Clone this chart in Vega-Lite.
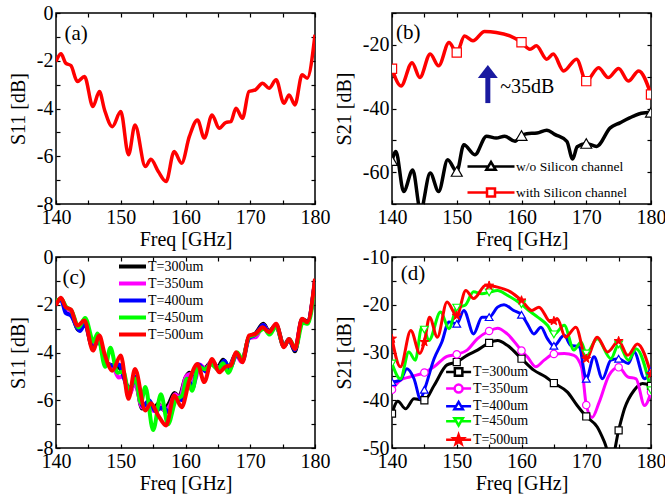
{
  "$schema": "https://vega.github.io/schema/vega-lite/v6.json",
  "padding": {"left": 7, "top": 2, "right": 0, "bottom": 0},
  "background": "white",
  "config": {
    "font": "Liberation Serif",
    "view": {"stroke": "black", "strokeWidth": 1.5},
    "axis": {"domain": false, "grid": false, "tickColor": "black", "tickSize": -4, "tickWidth": 1.2,
      "labelFont": "Liberation Serif", "labelFontSize": 20, "labelColor": "black", "labelFlush": false, "labelOverlap": false, "labelPadding": 7,
      "titleFont": "Liberation Serif", "titleFontSize": 20, "titleFontWeight": "normal", "titleColor": "black", "titlePadding": 2},
    "axisY": {"titlePadding": 8},
    "legend": {"labelFont": "Liberation Serif", "labelColor": "black", "padding": 0, "offset": 0, "rowPadding": 0, "labelOffset": 0}
  },
  "resolve": {"scale": {"color": "independent", "shape": "independent"}, "legend": {"color": "independent", "shape": "independent"}},
  "datasets": {
    "a": [
      {"f":140,"v":-2.03},{"f":140.77,"v":-1.71},{"f":141.5,"v":-2.1},{"f":142.3,"v":-2.2},{"f":143.3,"v":-2.87},{"f":144.4,"v":-2.66},{"f":145.7,"v":-3.92},{"f":146.7,"v":-3.29},{"f":147.5,"v":-4.06},{"f":148.7,"v":-4.76},{"f":150.0,"v":-4.13},{"f":151.2,"v":-5.94},{"f":152.2,"v":-4.69},{"f":153.8,"v":-6.43},{"f":154.65,"v":-6.13},{"f":155.8,"v":-6.64},{"f":157.0,"v":-7.06},{"f":158.25,"v":-5.8},{"f":159.4,"v":-6.29},{"f":160.6,"v":-5.17},{"f":161.85,"v":-4.48},{"f":162.9,"v":-5.24},{"f":164.1,"v":-4.27},{"f":165.2,"v":-4.83},{"f":166.2,"v":-4.59},{"f":167.0,"v":-4.55},{"f":167.8,"v":-3.99},{"f":168.8,"v":-4.41},{"f":169.8,"v":-3.29},{"f":170.8,"v":-3.22},{"f":171.9,"v":-2.94},{"f":172.9,"v":-3.15},{"f":174.0,"v":-2.8},{"f":175.2,"v":-3.78},{"f":176.0,"v":-3.43},{"f":176.9,"v":-3.85},{"f":178.0,"v":-2.59},{"f":178.8,"v":-2.73},{"f":180,"v":-0.91}
    ],
    "b": [
      {"s":"w/o Silicon channel","f":140,"v":-56.4,"m":1},{"s":"w/o Silicon channel","f":140.6,"v":-53.5},{"s":"w/o Silicon channel","f":141.8,"v":-66.1},{"s":"w/o Silicon channel","f":143.2,"v":-59.3},{"s":"w/o Silicon channel","f":144.4,"v":-72},{"s":"w/o Silicon channel","f":145.9,"v":-60.3},{"s":"w/o Silicon channel","f":147.2,"v":-66.1},{"s":"w/o Silicon channel","f":148.6,"v":-56.1},{"s":"w/o Silicon channel","f":150,"v":-59.8,"m":1},{"s":"w/o Silicon channel","f":151.1,"v":-51.4},{"s":"w/o Silicon channel","f":152.8,"v":-54.5},{"s":"w/o Silicon channel","f":154.6,"v":-48.7},{"s":"w/o Silicon channel","f":156.1,"v":-49.3},{"s":"w/o Silicon channel","f":157.4,"v":-48.7},{"s":"w/o Silicon channel","f":159.0,"v":-50.3},{"s":"w/o Silicon channel","f":160,"v":-48.5,"m":1},{"s":"w/o Silicon channel","f":160.8,"v":-47.9},{"s":"w/o Silicon channel","f":162.4,"v":-47.7},{"s":"w/o Silicon channel","f":163.9,"v":-46.8},{"s":"w/o Silicon channel","f":165.2,"v":-48.2},{"s":"w/o Silicon channel","f":167.0,"v":-50.3},{"s":"w/o Silicon channel","f":167.9,"v":-55.9},{"s":"w/o Silicon channel","f":168.6,"v":-52.0},{"s":"w/o Silicon channel","f":170,"v":-51.0,"m":1},{"s":"w/o Silicon channel","f":171.6,"v":-51.9},{"s":"w/o Silicon channel","f":173.7,"v":-46.1},{"s":"w/o Silicon channel","f":175.2,"v":-44.5},{"s":"w/o Silicon channel","f":177.3,"v":-42.4},{"s":"w/o Silicon channel","f":178.5,"v":-41.5},{"s":"w/o Silicon channel","f":180,"v":-41.2,"m":1},
      {"s":"with Silicon channel","f":140,"v":-27.5,"m":1},{"s":"with Silicon channel","f":141.4,"v":-32.9},{"s":"with Silicon channel","f":143.1,"v":-25.6},{"s":"with Silicon channel","f":144.3,"v":-30.3},{"s":"with Silicon channel","f":145.9,"v":-22.9},{"s":"with Silicon channel","f":147.2,"v":-26.6},{"s":"with Silicon channel","f":148.8,"v":-19.3},{"s":"with Silicon channel","f":150,"v":-22.4,"m":1},{"s":"with Silicon channel","f":151.2,"v":-17.2},{"s":"with Silicon channel","f":152.5,"v":-18.7},{"s":"with Silicon channel","f":154.3,"v":-15.8},{"s":"with Silicon channel","f":156.1,"v":-16.1},{"s":"with Silicon channel","f":158.2,"v":-17.2},{"s":"with Silicon channel","f":160,"v":-19.2,"m":1},{"s":"with Silicon channel","f":161.3,"v":-21.4},{"s":"with Silicon channel","f":162.3,"v":-20.3},{"s":"with Silicon channel","f":163.9,"v":-24.5},{"s":"with Silicon channel","f":164.9,"v":-22.9},{"s":"with Silicon channel","f":166.5,"v":-28.2},{"s":"with Silicon channel","f":168.5,"v":-24.5},{"s":"with Silicon channel","f":170,"v":-31.4,"m":1},{"s":"with Silicon channel","f":171.9,"v":-27.2},{"s":"with Silicon channel","f":173.4,"v":-30.3},{"s":"with Silicon channel","f":175.0,"v":-27.4},{"s":"with Silicon channel","f":176.5,"v":-31.4},{"s":"with Silicon channel","f":178.1,"v":-28.2},{"s":"with Silicon channel","f":180,"v":-35.6,"m":1}
    ],
    "c": [
      {"s":"T=300um","f":140,"v":-1.95},{"s":"T=300um","f":140.8,"v":-1.75},{"s":"T=300um","f":141.5,"v":-2.2},{"s":"T=300um","f":142.3,"v":-2.35},{"s":"T=300um","f":143.5,"v":-3.05},{"s":"T=300um","f":144.4,"v":-2.75},{"s":"T=300um","f":145.6,"v":-3.75},{"s":"T=300um","f":146.5,"v":-3.45},{"s":"T=300um","f":147.7,"v":-4.4},{"s":"T=300um","f":148.8,"v":-4.55},{"s":"T=300um","f":149.6,"v":-4.6},{"s":"T=300um","f":150.4,"v":-4.9},{"s":"T=300um","f":151.3,"v":-5.75},{"s":"T=300um","f":152.2,"v":-5.2},{"s":"T=300um","f":153.3,"v":-6.35},{"s":"T=300um","f":154.2,"v":-6.15},{"s":"T=300um","f":155.0,"v":-6.4},{"s":"T=300um","f":155.8,"v":-6.15},{"s":"T=300um","f":156.6,"v":-6.4},{"s":"T=300um","f":157.4,"v":-6.15},{"s":"T=300um","f":158.3,"v":-5.7},{"s":"T=300um","f":159.0,"v":-5.85},{"s":"T=300um","f":160.0,"v":-5.05},{"s":"T=300um","f":160.6,"v":-4.85},{"s":"T=300um","f":161.3,"v":-5.1},{"s":"T=300um","f":162.1,"v":-4.55},{"s":"T=300um","f":163.0,"v":-4.65},{"s":"T=300um","f":164.0,"v":-4.4},{"s":"T=300um","f":165.0,"v":-4.6},{"s":"T=300um","f":165.8,"v":-4.3},{"s":"T=300um","f":166.7,"v":-4.6},{"s":"T=300um","f":167.8,"v":-4.05},{"s":"T=300um","f":168.7,"v":-4.35},{"s":"T=300um","f":169.8,"v":-3.35},{"s":"T=300um","f":170.8,"v":-3.2},{"s":"T=300um","f":172.0,"v":-2.8},{"s":"T=300um","f":172.9,"v":-3.1},{"s":"T=300um","f":174.0,"v":-2.85},{"s":"T=300um","f":175.2,"v":-3.7},{"s":"T=300um","f":176.0,"v":-3.45},{"s":"T=300um","f":176.9,"v":-3.95},{"s":"T=300um","f":178.0,"v":-2.6},{"s":"T=300um","f":178.8,"v":-2.7},{"s":"T=300um","f":180,"v":-1.0},
      {"s":"T=350um","f":140,"v":-1.9},{"s":"T=350um","f":140.8,"v":-1.75},{"s":"T=350um","f":141.5,"v":-2.15},{"s":"T=350um","f":142.3,"v":-2.3},{"s":"T=350um","f":143.5,"v":-3.0},{"s":"T=350um","f":144.4,"v":-2.7},{"s":"T=350um","f":145.6,"v":-3.7},{"s":"T=350um","f":146.5,"v":-3.4},{"s":"T=350um","f":147.7,"v":-4.45},{"s":"T=350um","f":148.8,"v":-4.6},{"s":"T=350um","f":149.7,"v":-5.05},{"s":"T=350um","f":150.5,"v":-5.0},{"s":"T=350um","f":151.3,"v":-5.8},{"s":"T=350um","f":152.2,"v":-5.25},{"s":"T=350um","f":153.3,"v":-6.3},{"s":"T=350um","f":154.2,"v":-6.2},{"s":"T=350um","f":155.1,"v":-6.45},{"s":"T=350um","f":156.0,"v":-6.2},{"s":"T=350um","f":156.8,"v":-6.45},{"s":"T=350um","f":157.6,"v":-6.2},{"s":"T=350um","f":158.4,"v":-5.75},{"s":"T=350um","f":159.1,"v":-5.9},{"s":"T=350um","f":160.1,"v":-5.0},{"s":"T=350um","f":160.7,"v":-4.9},{"s":"T=350um","f":161.4,"v":-5.2},{"s":"T=350um","f":162.2,"v":-4.5},{"s":"T=350um","f":163.1,"v":-4.7},{"s":"T=350um","f":164.1,"v":-4.35},{"s":"T=350um","f":165.1,"v":-4.65},{"s":"T=350um","f":165.9,"v":-4.4},{"s":"T=350um","f":166.7,"v":-4.65},{"s":"T=350um","f":167.8,"v":-4.1},{"s":"T=350um","f":168.7,"v":-4.4},{"s":"T=350um","f":169.8,"v":-3.4},{"s":"T=350um","f":170.9,"v":-3.35},{"s":"T=350um","f":172.0,"v":-2.85},{"s":"T=350um","f":172.9,"v":-3.15},{"s":"T=350um","f":174.0,"v":-2.9},{"s":"T=350um","f":175.2,"v":-3.75},{"s":"T=350um","f":176.0,"v":-3.45},{"s":"T=350um","f":176.9,"v":-3.85},{"s":"T=350um","f":178.0,"v":-2.65},{"s":"T=350um","f":178.8,"v":-2.75},{"s":"T=350um","f":180,"v":-1.0},
      {"s":"T=400um","f":140,"v":-1.9},{"s":"T=400um","f":140.8,"v":-1.8},{"s":"T=400um","f":141.5,"v":-2.35},{"s":"T=400um","f":142.3,"v":-2.45},{"s":"T=400um","f":143.7,"v":-3.1},{"s":"T=400um","f":144.5,"v":-2.8},{"s":"T=400um","f":145.7,"v":-3.8},{"s":"T=400um","f":146.6,"v":-3.5},{"s":"T=400um","f":147.7,"v":-4.5},{"s":"T=400um","f":148.8,"v":-4.55},{"s":"T=400um","f":149.7,"v":-4.5},{"s":"T=400um","f":150.8,"v":-5.3},{"s":"T=400um","f":151.5,"v":-5.5},{"s":"T=400um","f":152.3,"v":-5.0},{"s":"T=400um","f":153.4,"v":-6.25},{"s":"T=400um","f":154.4,"v":-6.0},{"s":"T=400um","f":155.3,"v":-6.45},{"s":"T=400um","f":156.5,"v":-6.3},{"s":"T=400um","f":157.5,"v":-6.5},{"s":"T=400um","f":158.5,"v":-5.9},{"s":"T=400um","f":159.5,"v":-6.0},{"s":"T=400um","f":160.4,"v":-5.1},{"s":"T=400um","f":161.1,"v":-5.5},{"s":"T=400um","f":162.0,"v":-4.5},{"s":"T=400um","f":163.2,"v":-4.8},{"s":"T=400um","f":164.0,"v":-4.4},{"s":"T=400um","f":165.0,"v":-4.7},{"s":"T=400um","f":166.0,"v":-4.35},{"s":"T=400um","f":166.8,"v":-4.7},{"s":"T=400um","f":167.9,"v":-4.1},{"s":"T=400um","f":168.8,"v":-4.35},{"s":"T=400um","f":169.8,"v":-3.4},{"s":"T=400um","f":170.8,"v":-3.25},{"s":"T=400um","f":172.0,"v":-2.85},{"s":"T=400um","f":172.9,"v":-3.2},{"s":"T=400um","f":174.0,"v":-2.9},{"s":"T=400um","f":175.2,"v":-3.75},{"s":"T=400um","f":176.0,"v":-3.45},{"s":"T=400um","f":176.9,"v":-3.9},{"s":"T=400um","f":178.0,"v":-2.65},{"s":"T=400um","f":178.8,"v":-2.75},{"s":"T=400um","f":180,"v":-1.0},
      {"s":"T=450um","f":140,"v":-1.85},{"s":"T=450um","f":140.8,"v":-1.75},{"s":"T=450um","f":141.6,"v":-2.1},{"s":"T=450um","f":142.4,"v":-2.25},{"s":"T=450um","f":143.5,"v":-2.95},{"s":"T=450um","f":144.5,"v":-2.55},{"s":"T=450um","f":145.8,"v":-3.55},{"s":"T=450um","f":146.4,"v":-3.2},{"s":"T=450um","f":147.6,"v":-4.6},{"s":"T=450um","f":148.4,"v":-3.8},{"s":"T=450um","f":149.5,"v":-4.85},{"s":"T=450um","f":150.4,"v":-4.8},{"s":"T=450um","f":151.2,"v":-5.6},{"s":"T=450um","f":152.3,"v":-5.1},{"s":"T=450um","f":153.1,"v":-6.1},{"s":"T=450um","f":153.8,"v":-5.45},{"s":"T=450um","f":155.0,"v":-7.25},{"s":"T=450um","f":156.2,"v":-5.75},{"s":"T=450um","f":157.3,"v":-7.0},{"s":"T=450um","f":158.5,"v":-6.0},{"s":"T=450um","f":159.5,"v":-5.8},{"s":"T=450um","f":160.2,"v":-5.1},{"s":"T=450um","f":161.0,"v":-5.6},{"s":"T=450um","f":162.0,"v":-4.6},{"s":"T=450um","f":163.0,"v":-4.7},{"s":"T=450um","f":164.0,"v":-4.5},{"s":"T=450um","f":165.0,"v":-4.7},{"s":"T=450um","f":165.8,"v":-4.45},{"s":"T=450um","f":166.6,"v":-4.85},{"s":"T=450um","f":168.0,"v":-4.0},{"s":"T=450um","f":168.8,"v":-4.3},{"s":"T=450um","f":169.8,"v":-3.35},{"s":"T=450um","f":170.8,"v":-3.25},{"s":"T=450um","f":172.1,"v":-3.0},{"s":"T=450um","f":173.0,"v":-3.25},{"s":"T=450um","f":174.0,"v":-2.9},{"s":"T=450um","f":175.2,"v":-3.75},{"s":"T=450um","f":176.0,"v":-3.45},{"s":"T=450um","f":177.0,"v":-3.8},{"s":"T=450um","f":178.1,"v":-2.75},{"s":"T=450um","f":178.9,"v":-2.8},{"s":"T=450um","f":180,"v":-1.05},
      {"s":"T=500um","f":140,"v":-2.03},{"s":"T=500um","f":140.77,"v":-1.71},{"s":"T=500um","f":141.5,"v":-2.1},{"s":"T=500um","f":142.3,"v":-2.2},{"s":"T=500um","f":143.3,"v":-2.87},{"s":"T=500um","f":144.4,"v":-2.66},{"s":"T=500um","f":145.7,"v":-3.92},{"s":"T=500um","f":146.7,"v":-3.29},{"s":"T=500um","f":147.5,"v":-4.06},{"s":"T=500um","f":148.7,"v":-4.76},{"s":"T=500um","f":150.0,"v":-4.13},{"s":"T=500um","f":151.2,"v":-5.94},{"s":"T=500um","f":152.2,"v":-4.69},{"s":"T=500um","f":153.8,"v":-6.43},{"s":"T=500um","f":154.65,"v":-6.13},{"s":"T=500um","f":155.8,"v":-6.64},{"s":"T=500um","f":157.0,"v":-7.06},{"s":"T=500um","f":158.25,"v":-5.8},{"s":"T=500um","f":159.4,"v":-6.29},{"s":"T=500um","f":160.6,"v":-5.17},{"s":"T=500um","f":161.85,"v":-4.48},{"s":"T=500um","f":162.9,"v":-5.24},{"s":"T=500um","f":164.1,"v":-4.27},{"s":"T=500um","f":165.2,"v":-4.83},{"s":"T=500um","f":166.2,"v":-4.59},{"s":"T=500um","f":167.0,"v":-4.55},{"s":"T=500um","f":167.8,"v":-3.99},{"s":"T=500um","f":168.8,"v":-4.41},{"s":"T=500um","f":169.8,"v":-3.29},{"s":"T=500um","f":170.8,"v":-3.22},{"s":"T=500um","f":171.9,"v":-2.94},{"s":"T=500um","f":172.9,"v":-3.15},{"s":"T=500um","f":174.0,"v":-2.8},{"s":"T=500um","f":175.2,"v":-3.78},{"s":"T=500um","f":176.0,"v":-3.43},{"s":"T=500um","f":176.9,"v":-3.85},{"s":"T=500um","f":178.0,"v":-2.59},{"s":"T=500um","f":178.8,"v":-2.73},{"s":"T=500um","f":180,"v":-0.91}
    ],
    "d": [
      {"s":"T=300um","f":140,"v":-42.8,"m":1},{"s":"T=300um","f":140.9,"v":-40.2},{"s":"T=300um","f":142.1,"v":-41.8},{"s":"T=300um","f":143.4,"v":-39.7},{"s":"T=300um","f":145,"v":-40.0,"m":1},{"s":"T=300um","f":146.5,"v":-36.9},{"s":"T=300um","f":148.5,"v":-32.6},{"s":"T=300um","f":150,"v":-32.0,"m":1},{"s":"T=300um","f":151.6,"v":-30.6},{"s":"T=300um","f":153.2,"v":-29.5},{"s":"T=300um","f":155,"v":-28.0,"m":1},{"s":"T=300um","f":156.3,"v":-27.5},{"s":"T=300um","f":157.8,"v":-28.5},{"s":"T=300um","f":160,"v":-31.3,"m":1},{"s":"T=300um","f":161.9,"v":-33.7},{"s":"T=300um","f":163.7,"v":-35.1},{"s":"T=300um","f":165,"v":-36.4,"m":1},{"s":"T=300um","f":167.1,"v":-38.3},{"s":"T=300um","f":168.6,"v":-41.1},{"s":"T=300um","f":170,"v":-43.4,"m":1},{"s":"T=300um","f":171.7,"v":-45.6},{"s":"T=300um","f":172.8,"v":-48.7},{"s":"T=300um","f":173.9,"v":-52.5},{"s":"T=300um","f":175,"v":-46.3,"m":1},{"s":"T=300um","f":175.9,"v":-41.8},{"s":"T=300um","f":177.4,"v":-37.9},{"s":"T=300um","f":178.7,"v":-36.5},{"s":"T=300um","f":180,"v":-37.0,"m":1},
      {"s":"T=350um","f":140,"v":-37.8,"m":1},{"s":"T=350um","f":141.3,"v":-35.8},{"s":"T=350um","f":142.8,"v":-35.1},{"s":"T=350um","f":145,"v":-34.2,"m":1},{"s":"T=350um","f":146.5,"v":-33.0},{"s":"T=350um","f":148.5,"v":-30.8},{"s":"T=350um","f":150,"v":-30.4,"m":1},{"s":"T=350um","f":151.6,"v":-29.5},{"s":"T=350um","f":153.2,"v":-27.1},{"s":"T=350um","f":155,"v":-25.5,"m":1},{"s":"T=350um","f":156.3,"v":-24.9},{"s":"T=350um","f":157.8,"v":-26.1},{"s":"T=350um","f":160,"v":-29.6,"m":1},{"s":"T=350um","f":160.9,"v":-30.9},{"s":"T=350um","f":162.2,"v":-33.0},{"s":"T=350um","f":163.5,"v":-31.6},{"s":"T=350um","f":165,"v":-30.3,"m":1},{"s":"T=350um","f":166.6,"v":-30.2},{"s":"T=350um","f":168.1,"v":-30.6},{"s":"T=350um","f":169.3,"v":-33.2},{"s":"T=350um","f":170,"v":-41.0,"m":1},{"s":"T=350um","f":170.9,"v":-43.6},{"s":"T=350um","f":172,"v":-40.4},{"s":"T=350um","f":173.5,"v":-34.8},{"s":"T=350um","f":175,"v":-33.1,"m":1},{"s":"T=350um","f":176.4,"v":-35.1},{"s":"T=350um","f":177.7,"v":-35.5},{"s":"T=350um","f":179,"v":-41.1},{"s":"T=350um","f":180,"v":-38.3,"m":1},
      {"s":"T=400um","f":140,"v":-36.2,"m":1},{"s":"T=400um","f":141.3,"v":-35.8},{"s":"T=400um","f":142.3,"v":-33.4},{"s":"T=400um","f":143.4,"v":-35.5},{"s":"T=400um","f":144.4,"v":-39.7},{"s":"T=400um","f":145,"v":-37.8,"m":1},{"s":"T=400um","f":146.5,"v":-31.3},{"s":"T=400um","f":147.7,"v":-27.8},{"s":"T=400um","f":148.8,"v":-23.6},{"s":"T=400um","f":150,"v":-24.0,"m":1},{"s":"T=400um","f":151.1,"v":-21.2},{"s":"T=400um","f":152.6,"v":-26.1},{"s":"T=400um","f":153.9,"v":-22.6},{"s":"T=400um","f":155,"v":-22.6,"m":1},{"s":"T=400um","f":156.3,"v":-20.5},{"s":"T=400um","f":157.3,"v":-20.0},{"s":"T=400um","f":158.8,"v":-21.2},{"s":"T=400um","f":160,"v":-22.1,"m":1},{"s":"T=400um","f":160.9,"v":-24.0},{"s":"T=400um","f":161.9,"v":-26.1},{"s":"T=400um","f":163,"v":-24.7},{"s":"T=400um","f":164,"v":-27.1},{"s":"T=400um","f":165,"v":-28.6,"m":1},{"s":"T=400um","f":166.6,"v":-26.4},{"s":"T=400um","f":167.6,"v":-28.5},{"s":"T=400um","f":168.9,"v":-28.8},{"s":"T=400um","f":170,"v":-35.5,"m":1},{"s":"T=400um","f":171.2,"v":-30.9},{"s":"T=400um","f":172.5,"v":-35.5},{"s":"T=400um","f":173.8,"v":-31.6},{"s":"T=400um","f":175,"v":-31.3,"m":1},{"s":"T=400um","f":176.5,"v":-32.3},{"s":"T=400um","f":177.4,"v":-29.9},{"s":"T=400um","f":179,"v":-35.5},{"s":"T=400um","f":180,"v":-33.8,"m":1},
      {"s":"T=450um","f":140,"v":-32.3,"m":1},{"s":"T=450um","f":141.3,"v":-35.5},{"s":"T=450um","f":142.6,"v":-29.9},{"s":"T=450um","f":143.6,"v":-31.6},{"s":"T=450um","f":144.6,"v":-24.7},{"s":"T=450um","f":145,"v":-25.2,"m":1},{"s":"T=450um","f":145.7,"v":-27.5},{"s":"T=450um","f":147.5,"v":-21.5},{"s":"T=450um","f":148.8,"v":-25.0},{"s":"T=450um","f":150,"v":-20.6,"m":1},{"s":"T=450um","f":151.3,"v":-20.1},{"s":"T=450um","f":152.6,"v":-17.3},{"s":"T=450um","f":153.9,"v":-17.7},{"s":"T=450um","f":155,"v":-17.4,"m":1},{"s":"T=450um","f":156.3,"v":-17.0},{"s":"T=450um","f":157.8,"v":-18.0},{"s":"T=450um","f":160,"v":-19.9,"m":1},{"s":"T=450um","f":161.4,"v":-21.5},{"s":"T=450um","f":162.5,"v":-22.6},{"s":"T=450um","f":164,"v":-24.3},{"s":"T=450um","f":165,"v":-26.2,"m":1},{"s":"T=450um","f":166.6,"v":-24.3},{"s":"T=450um","f":168.1,"v":-29.5},{"s":"T=450um","f":169.2,"v":-27.8},{"s":"T=450um","f":170,"v":-30.2,"m":1},{"s":"T=450um","f":171.7,"v":-27.1},{"s":"T=450um","f":173.8,"v":-31.3},{"s":"T=450um","f":175,"v":-28.3,"m":1},{"s":"T=450um","f":176.5,"v":-31.6},{"s":"T=450um","f":177.7,"v":-29.2},{"s":"T=450um","f":180,"v":-37.9,"m":1},
      {"s":"T=500um","f":140,"v":-27.1,"m":1},{"s":"T=500um","f":141.3,"v":-33.0},{"s":"T=500um","f":142.9,"v":-25.4},{"s":"T=500um","f":144.3,"v":-30.2},{"s":"T=500um","f":145,"v":-27.8,"m":1},{"s":"T=500um","f":145.8,"v":-22.6},{"s":"T=500um","f":147.0,"v":-26.8},{"s":"T=500um","f":148.5,"v":-19.4},{"s":"T=500um","f":150,"v":-22.3,"m":1},{"s":"T=500um","f":151.4,"v":-17.0},{"s":"T=500um","f":152.6,"v":-18.7},{"s":"T=500um","f":154.5,"v":-15.9},{"s":"T=500um","f":155,"v":-16.0,"m":1},{"s":"T=500um","f":156.3,"v":-16.3},{"s":"T=500um","f":158.3,"v":-17.3},{"s":"T=500um","f":160,"v":-19.1,"m":1},{"s":"T=500um","f":161.6,"v":-21.2},{"s":"T=500um","f":162.7,"v":-20.5},{"s":"T=500um","f":164.5,"v":-23.6},{"s":"T=500um","f":165,"v":-23.4,"m":1},{"s":"T=500um","f":165.5,"v":-22.9},{"s":"T=500um","f":166.8,"v":-26.8},{"s":"T=500um","f":168.4,"v":-24.7},{"s":"T=500um","f":170,"v":-31.3,"m":1},{"s":"T=500um","f":171.7,"v":-26.8},{"s":"T=500um","f":173.3,"v":-29.9},{"s":"T=500um","f":175,"v":-27.6,"m":1},{"s":"T=500um","f":176.4,"v":-30.6},{"s":"T=500um","f":177.9,"v":-28.2},{"s":"T=500um","f":180,"v":-34.5,"m":1}
    ]
  },
  "columns": 2,
  "bounds": "flush",
  "spacing": {"row": 53, "column": 77},
  "concat": [
    {
      "width": 259, "height": 191,
      "data": {"name": "a"},
      "layer": [
        {"mark": {"type": "line", "color": "#ff0000", "strokeWidth": 3.5, "interpolate": "monotone", "clip": true},
         "encoding": {
           "x": {"field": "f", "type": "quantitative", "scale": {"domain": [140, 180], "nice": false, "zero": false},
                 "axis": {"orient": "bottom", "title": "Freq [GHz]", "values": [140,145,150,155,160,165,170,175,180], "labelExpr": "datum.value % 10 === 0 ? '' + datum.value : ''"}},
           "y": {"field": "v", "type": "quantitative", "scale": {"domain": [-8, 0], "nice": false, "zero": false},
                 "axis": {"orient": "left", "title": "S11 [dB]", "values": [-8,-7,-6,-5,-4,-3,-2,-1,0], "labelExpr": "datum.value % 2 === 0 ? '' + datum.value : ''"}}
         }},
        {"mark": {"type": "point", "opacity": 0},
         "encoding": {
           "x": {"field": "f", "type": "quantitative", "axis": {"orient": "top", "labels": false, "title": null, "values": [140,145,150,155,160,165,170,175,180]}},
           "y": {"field": "v", "type": "quantitative", "axis": {"orient": "right", "labels": false, "title": null, "values": [-8,-7,-6,-5,-4,-3,-2,-1,0]}}
         }},
        {"data": {"values": [{}]},
         "mark": {"type": "text", "align": "left", "baseline": "alphabetic", "fontSize": 21, "font": "Liberation Serif", "fill": "black"},
         "encoding": {"x": {"datum": 141.3, "type": "quantitative", "axis": null}, "y": {"datum": -1.15, "type": "quantitative", "axis": null}, "text": {"value": "(a)"}}}
      ]
    },
    {
      "width": 259, "height": 191,
      "data": {"name": "b"},
      "layer": [
        {"mark": {"type": "line", "strokeWidth": 3.5, "interpolate": "monotone", "clip": true},
         "encoding": {
           "x": {"field": "f", "type": "quantitative", "scale": {"domain": [140, 180], "nice": false, "zero": false},
                 "axis": {"orient": "bottom", "title": "Freq [GHz]", "values": [140,145,150,155,160,165,170,175,180], "labelExpr": "datum.value % 10 === 0 ? '' + datum.value : ''"}},
           "y": {"field": "v", "type": "quantitative", "scale": {"domain": [-70, -10], "nice": false, "zero": false},
                 "axis": {"orient": "left", "title": "S21 [dB]", "values": [-70,-60,-50,-40,-30,-20,-10], "labelExpr": "datum.value % 20 === 0 ? '' + datum.value : ''"}},
           "color": {"field": "s", "type": "nominal", "scale": {"domain": ["w/o Silicon channel", "with Silicon channel"], "range": ["#000000", "#ff0000"]},
                     "legend": {"orient": "none", "legendX": 74, "legendY": 140.5, "title": null, "labelFontSize": 13.5, "symbolSize": 2209, "symbolStrokeWidth": 2.5, "symbolOpacity": 1, "clipHeight": 26}}
         }},
        {"transform": [{"filter": "datum.m === 1 && datum.s === 'w/o Silicon channel'"}],
         "mark": {"type": "point", "shape": "triangle-up", "filled": true, "fill": "white", "stroke": "black", "strokeWidth": 1.2, "size": 120, "opacity": 1, "clip": true},
         "encoding": {
           "x": {"field": "f", "type": "quantitative", "axis": {"orient": "top", "labels": false, "title": null, "values": [140,145,150,155,160,165,170,175,180]}},
           "y": {"field": "v", "type": "quantitative", "axis": {"orient": "right", "labels": false, "title": null, "values": [-70,-60,-50,-40,-30,-20,-10]}}
         }},
        {"transform": [{"filter": "datum.m === 1 && datum.s === 'with Silicon channel'"}],
         "mark": {"type": "point", "shape": "square", "filled": true, "fill": "white", "stroke": "#ff0000", "strokeWidth": 1.2, "size": 85, "opacity": 1, "clip": true},
         "encoding": {
           "x": {"field": "f", "type": "quantitative", "axis": null},
           "y": {"field": "v", "type": "quantitative", "axis": null}
         }},
        {"transform": [{"filter": "datum.m === 1"}],
         "mark": {"type": "point", "opacity": 0, "strokeWidth": 2.5},
         "encoding": {
           "x": {"field": "f", "type": "quantitative", "axis": null},
           "y": {"field": "v", "type": "quantitative", "axis": null},
           "color": {"field": "s", "type": "nominal", "legend": {"orient": "none", "legendX": 74, "legendY": 140.5, "title": null, "labelFontSize": 13.5, "symbolSize": 2209, "symbolStrokeWidth": 2.5, "symbolOpacity": 1, "clipHeight": 26}},
           "shape": {"field": "s", "type": "nominal", "scale": {"domain": ["w/o Silicon channel", "with Silicon channel"], "range": ["M-1,0H-0.12M0.12,0H1M-0.2,0.14L0.2,0.14L0,-0.19Z", "M-1,0H-0.17M0.17,0H1M-0.17,-0.17H0.17V0.17H-0.17Z"]},
                     "legend": {"orient": "none", "legendX": 74, "legendY": 140.5, "title": null, "labelFontSize": 13.5, "symbolSize": 2209, "symbolStrokeWidth": 2.5, "symbolOpacity": 1, "clipHeight": 26}}
         }},
        {"data": {"values": [{}]},
         "mark": {"type": "rule", "color": "#1a1aa0", "strokeWidth": 5},
         "encoding": {"x": {"datum": 154.8, "type": "quantitative", "axis": null}, "y": {"datum": -38.3, "type": "quantitative", "axis": null}, "y2": {"datum": -30.0}}},
        {"data": {"values": [{}]},
         "mark": {"type": "point", "shape": "M-1,0.65L1,0.65L0,-0.65Z", "filled": true, "color": "#1a1aa0", "size": 400, "opacity": 1},
         "encoding": {"x": {"datum": 154.8, "type": "quantitative", "axis": null}, "y": {"datum": -28.4, "type": "quantitative", "axis": null}}},
        {"data": {"values": [{}]},
         "mark": {"type": "text", "align": "left", "baseline": "middle", "fontSize": 20, "font": "Liberation Serif", "fill": "black"},
         "encoding": {"x": {"datum": 156.7, "type": "quantitative", "axis": null}, "y": {"datum": -33.2, "type": "quantitative", "axis": null}, "text": {"value": "~35dB"}}},
        {"data": {"values": [{}]},
         "mark": {"type": "text", "align": "left", "baseline": "alphabetic", "fontSize": 21, "font": "Liberation Serif", "fill": "black"},
         "encoding": {"x": {"datum": 140.6, "type": "quantitative", "axis": null}, "y": {"datum": -18.2, "type": "quantitative", "axis": null}, "text": {"value": "(b)"}}}
      ]
    },
    {
      "width": 259, "height": 191,
      "data": {"name": "c"},
      "layer": [
        {"mark": {"type": "line", "strokeWidth": 4, "interpolate": "monotone", "clip": true},
         "encoding": {
           "x": {"field": "f", "type": "quantitative", "scale": {"domain": [140, 180], "nice": false, "zero": false},
                 "axis": {"orient": "bottom", "title": "Freq [GHz]", "values": [140,145,150,155,160,165,170,175,180], "labelExpr": "datum.value % 10 === 0 ? '' + datum.value : ''"}},
           "y": {"field": "v", "type": "quantitative", "scale": {"domain": [-8, 0], "nice": false, "zero": false},
                 "axis": {"orient": "left", "title": "S11 [dB]", "values": [-8,-7,-6,-5,-4,-3,-2,-1,0], "labelExpr": "datum.value % 2 === 0 ? '' + datum.value : ''"}},
           "color": {"field": "s", "type": "nominal", "scale": {"domain": ["T=300um", "T=350um", "T=400um", "T=450um", "T=500um"], "range": ["#000000", "#ff00ff", "#0000ff", "#00ff00", "#ff0000"]},
                     "legend": {"orient": "none", "legendX": 61, "legendY": 1, "title": null, "labelFontSize": 14, "symbolType": "M-1,0H1", "symbolSize": 729, "symbolStrokeWidth": 4, "clipHeight": 17}}
         }},
        {"mark": {"type": "point", "opacity": 0},
         "encoding": {
           "x": {"field": "f", "type": "quantitative", "axis": {"orient": "top", "labels": false, "title": null, "values": [140,145,150,155,160,165,170,175,180]}},
           "y": {"field": "v", "type": "quantitative", "axis": {"orient": "right", "labels": false, "title": null, "values": [-8,-7,-6,-5,-4,-3,-2,-1,0]}}
         }},
        {"data": {"values": [{}]},
         "mark": {"type": "text", "align": "left", "baseline": "alphabetic", "fontSize": 21, "font": "Liberation Serif", "fill": "black"},
         "encoding": {"x": {"datum": 141.0, "type": "quantitative", "axis": null}, "y": {"datum": -1.11, "type": "quantitative", "axis": null}, "text": {"value": "(c)"}}}
      ]
    },
    {
      "width": 259, "height": 191,
      "data": {"name": "d"},
      "layer": [
        {"mark": {"type": "line", "strokeWidth": 3, "interpolate": "monotone", "clip": true},
         "encoding": {
           "x": {"field": "f", "type": "quantitative", "scale": {"domain": [140, 180], "nice": false, "zero": false},
                 "axis": {"orient": "bottom", "title": "Freq [GHz]", "values": [140,145,150,155,160,165,170,175,180], "labelExpr": "datum.value % 10 === 0 ? '' + datum.value : ''"}},
           "y": {"field": "v", "type": "quantitative", "scale": {"domain": [-50, -10], "nice": false, "zero": false},
                 "axis": {"orient": "left", "title": "S21 [dB]", "values": [-50,-45,-40,-35,-30,-25,-20,-15,-10], "labelExpr": "datum.value % 10 === 0 ? '' + datum.value : ''"}},
           "color": {"field": "s", "type": "nominal", "scale": {"domain": ["T=300um", "T=350um", "T=400um", "T=450um", "T=500um"], "range": ["#000000", "#ff00ff", "#0000ff", "#00ff00", "#ff0000"]},
                     "legend": {"orient": "none", "legendX": 59.6, "legendY": 108, "title": null, "labelFontSize": 14, "symbolSize": 100, "symbolStrokeWidth": 2.5, "symbolOpacity": 1, "rowPadding": -1.4, "labelOffset": 7.3}}
         }},
        {"transform": [{"filter": "datum.m === 1 && datum.s === 'T=300um'"}],
         "mark": {"type": "point", "shape": "square", "filled": true, "fill": "white", "stroke": "#000000", "strokeWidth": 1.2, "size": 50, "opacity": 1, "clip": true},
         "encoding": {
           "x": {"field": "f", "type": "quantitative", "axis": {"orient": "top", "labels": false, "title": null, "values": [140,145,150,155,160,165,170,175,180]}},
           "y": {"field": "v", "type": "quantitative", "axis": {"orient": "right", "labels": false, "title": null, "values": [-50,-45,-40,-35,-30,-25,-20,-15,-10]}}
         }},
        {"transform": [{"filter": "datum.m === 1 && datum.s === 'T=350um'"}],
         "mark": {"type": "point", "shape": "circle", "filled": true, "fill": "white", "stroke": "#ff00ff", "strokeWidth": 1.2, "size": 55, "opacity": 1, "clip": true},
         "encoding": {"x": {"field": "f", "type": "quantitative", "axis": null}, "y": {"field": "v", "type": "quantitative", "axis": null}}},
        {"transform": [{"filter": "datum.m === 1 && datum.s === 'T=400um'"}],
         "mark": {"type": "point", "shape": "triangle-up", "filled": true, "fill": "white", "stroke": "#0000ff", "strokeWidth": 1.2, "size": 60, "opacity": 1, "clip": true},
         "encoding": {"x": {"field": "f", "type": "quantitative", "axis": null}, "y": {"field": "v", "type": "quantitative", "axis": null}}},
        {"transform": [{"filter": "datum.m === 1 && datum.s === 'T=450um'"}],
         "mark": {"type": "point", "shape": "triangle-down", "filled": true, "fill": "white", "stroke": "#00ff00", "strokeWidth": 1.2, "size": 60, "opacity": 1, "clip": true},
         "encoding": {"x": {"field": "f", "type": "quantitative", "axis": null}, "y": {"field": "v", "type": "quantitative", "axis": null}}},
        {"transform": [{"filter": "datum.m === 1 && datum.s === 'T=500um'"}],
         "mark": {"type": "point", "shape": "M0,-1L0.235,-0.324L0.951,-0.309L0.38,0.124L0.588,0.809L0,0.4L-0.588,0.809L-0.38,0.124L-0.951,-0.309L-0.235,-0.324Z", "filled": true, "fill": "#ff0000", "stroke": "#ff0000", "strokeWidth": 1, "size": 90, "opacity": 1, "clip": true},
         "encoding": {"x": {"field": "f", "type": "quantitative", "axis": null}, "y": {"field": "v", "type": "quantitative", "axis": null}}},
        {"transform": [{"filter": "datum.m === 1"}],
         "mark": {"type": "point", "opacity": 0, "strokeWidth": 2.5},
         "encoding": {
           "x": {"field": "f", "type": "quantitative", "axis": null},
           "y": {"field": "v", "type": "quantitative", "axis": null},
           "color": {"field": "s", "type": "nominal", "legend": {"orient": "none", "legendX": 59.6, "legendY": 108, "title": null, "labelFontSize": 14, "symbolSize": 100, "symbolStrokeWidth": 2.5, "symbolOpacity": 1, "rowPadding": -1.4, "labelOffset": 7.3}},
           "shape": {"field": "s", "type": "nominal", "scale": {"domain": ["T=300um", "T=350um", "T=400um", "T=450um", "T=500um"], "range": [
             "M-2.5,0H-0.75M0.75,0H2.5M-0.75,-0.75H0.75V0.75H-0.75Z",
             "M-2.5,0H-0.8M0.8,0H2.5M-0.8,0A0.8,0.8,0,1,1,0.8,0A0.8,0.8,0,1,1,-0.8,0Z",
             "M-2.5,0H-0.48M0.48,0H2.5M-0.85,0.6L0.85,0.6L0,-0.85Z",
             "M-2.5,0H-0.48M0.48,0H2.5M-0.85,-0.6L0.85,-0.6L0,0.85Z",
             "M-2.5,0H2.5M0,-1L0.235,-0.324L0.951,-0.309L0.38,0.124L0.588,0.809L0,0.4L-0.588,0.809L-0.38,0.124L-0.951,-0.309L-0.235,-0.324Z"]},
                     "legend": {"orient": "none", "legendX": 59.6, "legendY": 108, "title": null, "labelFontSize": 14, "symbolSize": 100, "symbolStrokeWidth": 2.5, "symbolOpacity": 1, "rowPadding": -1.4, "labelOffset": 7.3}}
         }},
        {"data": {"values": [{}]},
         "mark": {"type": "text", "align": "left", "baseline": "alphabetic", "fontSize": 21, "font": "Liberation Serif", "fill": "black"},
         "encoding": {"x": {"datum": 141.35, "type": "quantitative", "axis": null}, "y": {"datum": -14.9, "type": "quantitative", "axis": null}, "text": {"value": "(d)"}}}
      ]
    }
  ]
}
